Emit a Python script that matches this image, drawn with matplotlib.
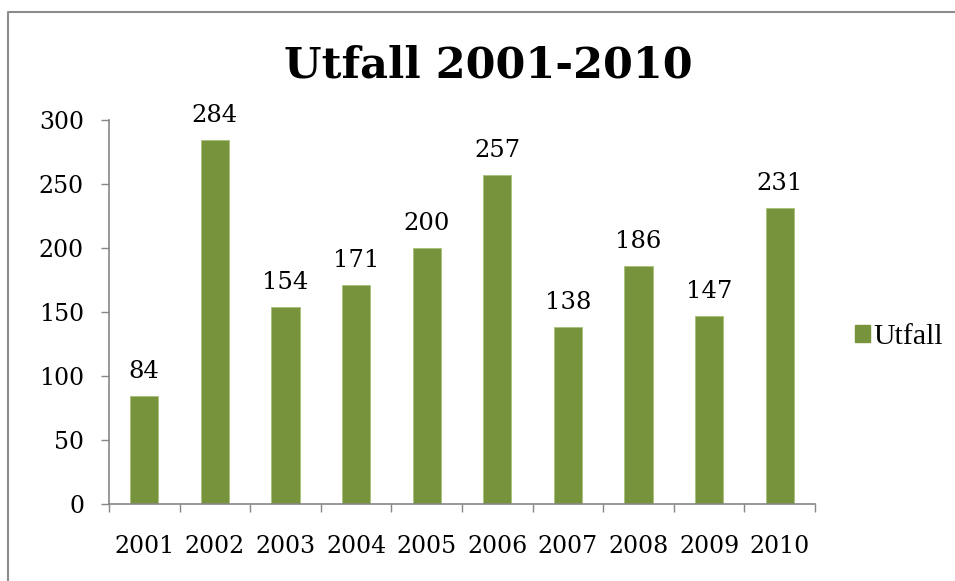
import matplotlib
import numpy as np
import matplotlib.pyplot as plt
from matplotlib.patches import Patch
from matplotlib.lines import Line2D

matplotlib.use('Agg')

years = ['2001', '2002', '2003', '2004', '2005', '2006', '2007', '2008', '2009', '2010']
utfall = [84, 284, 154, 171, 200, 257, 138, 186, 147, 231]
yticks = [0, 50, 100, 150, 200, 250, 300]

green = '#77933C'
grey = '#868686'

fig = plt.figure(figsize=(9.55, 5.81), dpi=100)
ax = fig.add_axes([109 / 955, 77 / 581, 706 / 955, 384 / 581])

x = np.arange(len(years))
ax.bar(x, utfall, width=0.4, color=green, edgecolor='#a9c07a', linewidth=0.6)
for xi, v in zip(x, utfall):
    ax.annotate(str(v), (xi, v), xytext=(0, 13), textcoords='offset points',
                ha='center', va='baseline', fontsize=17.5, family='DejaVu Serif')

ax.set_xlim(-0.5, len(years) - 0.5)
ax.set_ylim(0, 300)
ax.set_yticks(yticks)
ax.set_xticks(np.arange(len(years) + 1) - 0.5, minor=False)
ax.set_xticklabels([])
ax.set_xticks(x, minor=True)
ax.set_xticklabels(years, minor=True, fontsize=17, family='DejaVu Serif')
ax.set_yticklabels([str(t) for t in yticks], fontsize=17, family='DejaVu Serif')

ax.tick_params(axis='x', which='major', length=6, width=1, color=grey, direction='out')
ax.tick_params(axis='x', which='minor', length=0, pad=22)
ax.tick_params(axis='y', length=6, width=1, color=grey, pad=12)

for s in ['top', 'right']:
    ax.spines[s].set_visible(False)
for s in ['left', 'bottom']:
    ax.spines[s].set_color(grey)
    ax.spines[s].set_linewidth(1.2)

fig.text(0.511, 1 - 77 / 581, 'Utfall 2001-2010', ha='center', va='baseline',
         fontsize=31, fontweight='bold', family='DejaVu Serif')

fig.legend(handles=[Patch(facecolor=green, edgecolor=green)], labels=['Utfall'],
           loc='center left', bbox_to_anchor=(855 / 955, 1 - 337 / 581),
           frameon=False, handlelength=0.5, handleheight=0.5,
           handletextpad=0.12, borderpad=0, borderaxespad=0,
           prop={'family': 'Liberation Serif', 'size': 21.5})

# outer chart frame
fig.add_artist(Line2D([8 / 955, 8 / 955, 1.0], [0, 1 - 12 / 581, 1 - 12 / 581],
                      transform=fig.transFigure, color='#8c8c8c', linewidth=1.5))

fig.savefig('out.png', dpi=100)
